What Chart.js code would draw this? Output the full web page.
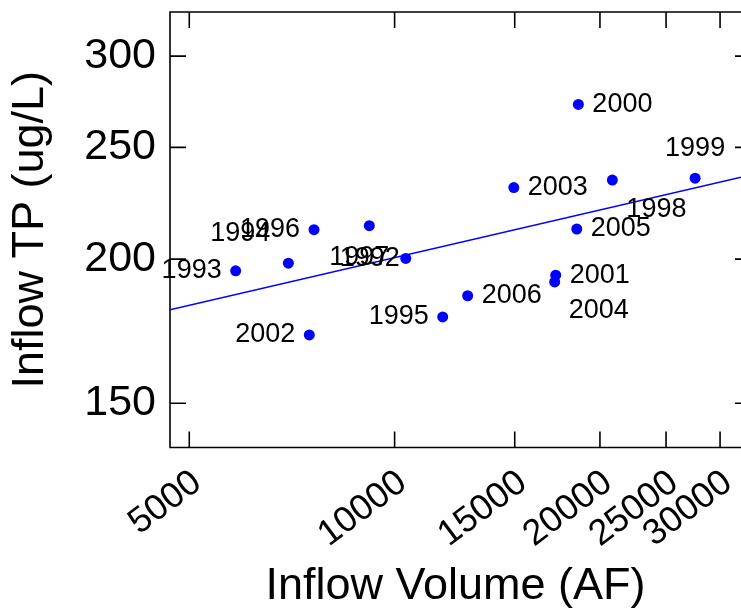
<!DOCTYPE html>
<html>
<head>
<meta charset="utf-8">
<script src="https://cdn.jsdelivr.net/npm/chart.js@4/dist/chart.umd.min.js"></script>
<style>
  html, body { margin: 0; padding: 0; background: #ffffff; }
  #wrap { width: 741px; height: 611px; overflow: hidden; }
</style>
</head>
<body>
<div id="wrap"><canvas id="chart" width="741" height="611"></canvas></div>
<script>
// Annual inflow volume (acre-feet) and flow-weighted inflow TP (ug/L)
const years = ["1992", "1993", "1994", "1995", "1996", "1997", "1998", "1999",
               "2000", "2001", "2002", "2003", "2004", "2005", "2006"];
const inflowVolume = [10384, 5848, 6986, 11763, 7618, 9181, 20856, 27577,
                      18595, 17225, 7498, 14954, 17167, 18495, 12797];
const inflowTP = [200.3, 195.4, 198.4, 178.2, 212.1, 213.8, 234.2, 235.1,
                  272.4, 193.7, 171.9, 230.7, 191.1, 212.4, 185.9];

// Log-log fit: log10(TP) = fitIntercept + fitSlope * log10(Volume)
const fitIntercept = 1.7531;
const fitSlope = 0.1373;

// Axis ticks and visible ranges
const xTicks = [5000, 10000, 15000, 20000, 25000, 30000];
const yTicks = [150, 200, 250, 300];
const xRange = [4685, 32197];
const yRange = [137.3, 327.6];

// Where each year's label sits relative to its point
const labelPlacement = ["tightLeft", "left", "aboveLeft", "left", "left", "belowLeft",
                        "belowRight", "above", "right", "right", "left", "right",
                        "belowRight", "right", "right"];

const FONT = "'Liberation Sans', Arial, Helvetica, sans-serif";
const BLUE = "#0000ff";
const INK = "#000000";

const placementStyle = {
  left:       { align: "right",  dx: -14, dy: 0 },
  tightLeft:  { align: "right",  dx: -6,  dy: 0 },
  right:      { align: "left",   dx: 14,  dy: 0 },
  above:      { align: "center", dx: 0,   dy: -30 },
  aboveLeft:  { align: "right",  dx: -18, dy: -30 },
  belowLeft:  { align: "center", dx: -10, dy: 32 },
  belowRight: { align: "left",   dx: 14,  dy: 29 }
};

const points = inflowVolume.map((v, i) => ({ x: v, y: inflowTP[i] }));
const fitAt = v => Math.pow(10, fitIntercept + fitSlope * Math.log10(v));
const fitLine = [
  { x: xRange[0], y: fitAt(xRange[0]) },
  { x: xRange[1], y: fitAt(xRange[1]) }
];

// Box around the plot with inward tick marks; the right side of the box
// sits just past the canvas edge, so only its tick stubs show.
const framePlugin = {
  id: "frame",
  beforeDatasetsDraw(chart) {
    const { ctx, chartArea: a, scales } = chart;
    const right = a.right + 10;
    const tl = 16;
    ctx.save();
    ctx.strokeStyle = INK;
    ctx.lineWidth = 1.6;
    ctx.beginPath();
    ctx.rect(a.left, a.top, right - a.left, a.bottom - a.top);
    xTicks.forEach(v => {
      const px = scales.x.getPixelForValue(v);
      ctx.moveTo(px, a.bottom); ctx.lineTo(px, a.bottom - tl);
      ctx.moveTo(px, a.top);    ctx.lineTo(px, a.top + tl);
    });
    yTicks.forEach(v => {
      const py = scales.y.getPixelForValue(v);
      ctx.moveTo(a.left, py); ctx.lineTo(a.left + tl, py);
      ctx.moveTo(right, py);  ctx.lineTo(right - tl, py);
    });
    ctx.stroke();
    ctx.restore();
  }
};

// Year labels next to each point
const yearLabelPlugin = {
  id: "yearLabels",
  afterDatasetsDraw(chart) {
    const { ctx } = chart;
    const meta = chart.getDatasetMeta(0);
    ctx.save();
    ctx.font = "27px " + FONT;
    ctx.fillStyle = INK;
    ctx.textBaseline = "middle";
    meta.data.forEach((pt, i) => {
      const s = placementStyle[labelPlacement[i]];
      ctx.textAlign = s.align;
      ctx.fillText(years[i], pt.x + s.dx, pt.y + s.dy);
    });
    ctx.restore();
  }
};

new Chart(document.getElementById("chart"), {
  type: "scatter",
  data: {
    datasets: [
      {
        label: "Inflow TP",
        data: points,
        pointRadius: 5.5,
        pointHoverRadius: 5.5,
        pointBackgroundColor: BLUE,
        pointBorderWidth: 0,
        showLine: false
      },
      {
        type: "line",
        label: "Fit",
        data: fitLine,
        borderColor: BLUE,
        borderWidth: 1.5,
        pointRadius: 0,
        fill: false,
        tension: 0
      }
    ]
  },
  options: {
    responsive: false,
    devicePixelRatio: 1,
    animation: false,
    events: [],
    layout: { autoPadding: false, padding: { top: 12, right: 0, bottom: 0, left: 0 } },
    plugins: {
      legend: { display: false },
      tooltip: { enabled: false }
    },
    scales: {
      x: {
        type: "logarithmic",
        position: "bottom",
        min: xRange[0],
        max: xRange[1],
        bounds: "data",
        grid: { display: false, drawTicks: false },
        border: { display: false },
        afterBuildTicks: s => { s.ticks = xTicks.map(v => ({ value: v })); },
        afterFit: s => { s.height = 163.5; s.paddingLeft = 0; s.paddingRight = 0; },
        ticks: {
          autoSkip: false,
          minRotation: 37,
          maxRotation: 37,
          padding: 17,
          labelOffset: 8,
          color: INK,
          font: { family: FONT, size: 36, lineHeight: 1 },
          callback: v => String(v)
        },
        title: {
          display: true,
          text: "Inflow Volume (AF)",
          color: INK,
          font: { family: FONT, size: 45, lineHeight: 1 },
          padding: { top: 0, bottom: 2 }
        }
      },
      y: {
        type: "logarithmic",
        position: "left",
        min: yRange[0],
        max: yRange[1],
        bounds: "data",
        grid: { display: false, drawTicks: false },
        border: { display: false },
        afterBuildTicks: s => { s.ticks = yTicks.map(v => ({ value: v })); },
        afterFit: s => { s.width = 170; s.paddingTop = 0; s.paddingBottom = 0; },
        ticks: {
          padding: 14,
          color: INK,
          font: { family: FONT, size: 43, lineHeight: 1 },
          callback: v => String(v)
        },
        title: {
          display: true,
          text: "Inflow TP (ug/L)",
          color: INK,
          font: { family: FONT, size: 45, lineHeight: 1 },
          padding: { top: 8.5, bottom: 0 }
        }
      }
    }
  },
  plugins: [framePlugin, yearLabelPlugin]
});
</script>
</body>
</html>
